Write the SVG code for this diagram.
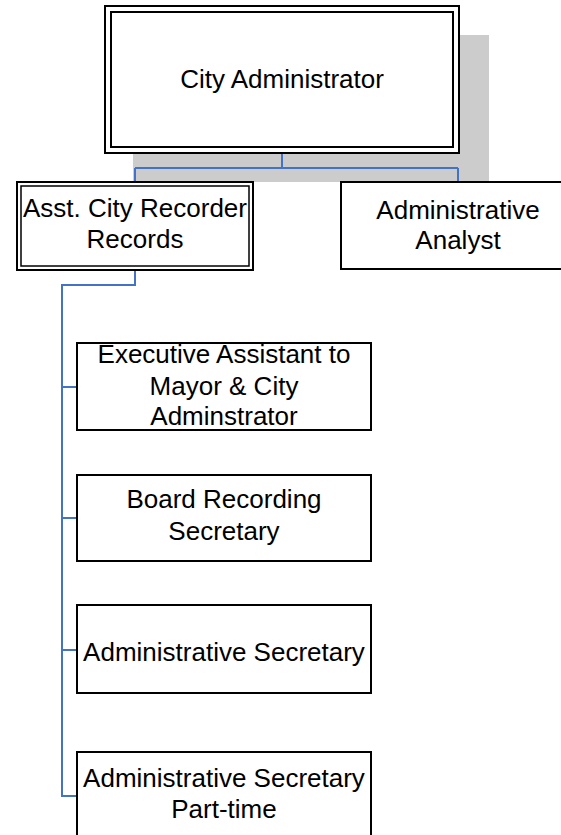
<svg xmlns="http://www.w3.org/2000/svg" width="561" height="835" viewBox="0 0 561 835">
<style>
.box{fill:#fff;stroke:#000;stroke-width:2}
.inner{fill:none;stroke:#000;stroke-width:2}
.lbl{font-family:"Liberation Sans",Arial,sans-serif;font-size:26px;fill:#000;text-anchor:middle}
.conn{fill:none;stroke:#4472C4;stroke-width:2}
</style>
<rect x="0" y="0" width="561" height="835" fill="#fff"/>
<rect id="shadow" x="133" y="35" width="356" height="147" fill="#CCCCCC"/>
<g id="connectors">
<path class="conn" d="M282,153 V168 M135,168 H458 M135,168 V182 M458,168 V182"/>
<path class="conn" d="M135,270 V285 H62 V796 H77 M62,387 H77 M62,518 H77 M62,650 H77"/>
</g>
<g id="city-administrator">
<rect class="box" x="105" y="6" width="354" height="147"/>
<rect class="inner" x="111" y="12" width="342" height="135"/>
<text class="lbl" x="282" y="88">City Administrator</text>
</g>
<g id="asst-city-recorder">
<rect class="box" x="17" y="182" width="236" height="88"/>
<rect class="inner" x="21" y="186" width="228" height="80" style="stroke-width:1.5"/>
<text class="lbl" x="135" y="217">Asst. City Recorder</text>
<text class="lbl" x="135" y="248">Records</text>
</g>
<g id="administrative-analyst">
<rect class="box" x="341" y="182" width="234" height="87"/>
<text class="lbl" x="458" y="219">Administrative</text>
<text class="lbl" x="458" y="249">Analyst</text>
</g>
<g id="executive-assistant">
<rect class="box" x="77" y="343" width="294" height="87"/>
<text class="lbl" x="224" y="363">Executive Assistant to</text>
<text class="lbl" x="224" y="395">Mayor &amp; City</text>
<text class="lbl" x="224" y="425">Adminstrator</text>
</g>
<g id="board-recording-secretary">
<rect class="box" x="77" y="475" width="294" height="86"/>
<text class="lbl" x="224" y="508">Board Recording</text>
<text class="lbl" x="224" y="540">Secretary</text>
</g>
<g id="administrative-secretary">
<rect class="box" x="77" y="605" width="294" height="88"/>
<text class="lbl" x="224" y="661">Administrative Secretary</text>
</g>
<g id="administrative-secretary-part-time">
<rect class="box" x="77" y="752" width="294" height="90"/>
<text class="lbl" x="224" y="787">Administrative Secretary</text>
<text class="lbl" x="224" y="818">Part-time</text>
</g>
</svg>
